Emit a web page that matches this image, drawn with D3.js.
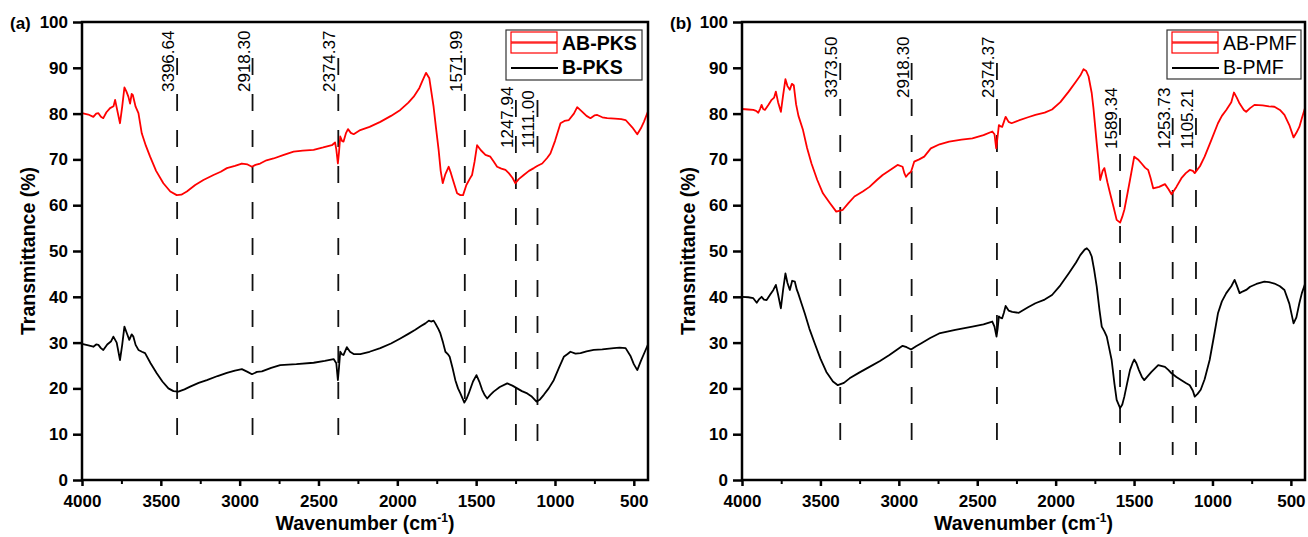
<!DOCTYPE html>
<html>
<head>
<meta charset="utf-8">
<script src="https://cdn.jsdelivr.net/npm/d3@7"></script>
<style>
  body { margin: 0; background: #fff; }
  svg { font-family: "Liberation Sans", Arial, sans-serif; }
</style>
</head>
<body>
<svg id="chart" width="1308" height="537"></svg>
<script>
// ---- data ----
const yTicks = [0, 10, 20, 30, 40, 50, 60, 70, 80, 90, 100];
const xTicks = [4000, 3500, 3000, 2500, 2000, 1500, 1000, 500];
const xMinorTicks = [3750, 3250, 2750, 2250, 1750, 1250, 750];

// (a) AB-PKS (red)
const abPksWn = [4000,3960,3928,3910,3896,3880,3865,3845,3822,3800,3790,3775,3759,3745,3731,3718,3706,3695,3685,3678,3660,3642,3621,3595,3568,3530,3484,3440,3399,3370,3335,3282,3230,3166,3120,3081,3030,2986,2950,2922,2900,2870,2830,2785,2720,2658,2600,2531,2470,2415,2395,2387,2377,2370,2362,2350,2341,2325,2313,2295,2277,2235,2176,2108,2040,1981,1930,1896,1860,1843,1818,1797,1770,1755,1738,1725,1712,1695,1674,1660,1647,1621,1600,1583,1562,1540,1526,1510,1494,1470,1441,1410,1390,1367,1340,1314,1293,1270,1251,1230,1198,1165,1134,1110,1081,1050,1029,1000,965,940,912,880,859,830,800,775,750,732,700,669,620,580,552,510,478,455,436,411];
const abPksT = [80.1,79.8,79.3,80.0,80.1,79.3,79.0,80.3,81.2,81.6,83.0,80.5,77.9,81.5,85.7,84.8,83.7,82.2,84.3,84.1,81.5,80.1,75.7,73.0,70.6,67.5,64.8,63.0,62.2,62.3,63.0,64.4,65.5,66.6,67.3,68.1,68.6,69.1,68.9,68.4,68.8,69.1,69.8,70.2,71.0,71.7,71.9,72.1,72.6,73.1,73.7,72.2,69.1,71.5,75.0,74.0,73.9,75.8,76.6,75.8,75.5,76.4,77.1,78.2,79.5,80.8,82.4,83.7,85.6,87.0,88.9,87.7,81.5,77.0,72.1,67.5,64.8,66.8,68.4,67.0,65.5,62.6,62.2,62.2,64.4,65.8,66.6,69.5,73.1,72.0,71.0,70.6,69.6,68.4,68.0,67.7,67.0,66.0,64.8,65.7,66.6,67.5,68.1,68.6,69.1,70.3,71.3,74.0,77.9,78.4,78.6,80.0,81.4,80.5,79.5,79.0,79.6,79.7,79.2,79.0,78.9,78.8,78.6,77.0,75.5,76.8,78.2,80.4];

// (a) B-PKS (black)
const bPksWn = [4000,3960,3928,3910,3896,3880,3865,3840,3815,3801,3780,3759,3745,3731,3715,3700,3685,3674,3660,3642,3620,3600,3565,3526,3490,3452,3420,3389,3350,3314,3260,3208,3140,3081,3030,2986,2950,2922,2890,2859,2800,2743,2640,2531,2460,2404,2387,2377,2370,2362,2350,2341,2320,2300,2277,2235,2176,2108,2040,1981,1930,1886,1850,1822,1800,1786,1770,1759,1740,1727,1710,1695,1680,1668,1650,1632,1615,1600,1575,1560,1547,1520,1498,1480,1462,1445,1430,1410,1389,1350,1303,1270,1240,1210,1176,1150,1117,1095,1071,1040,1008,975,944,920,902,870,838,800,754,700,627,590,552,520,500,478,455,430,411];
const bPksT = [29.7,29.4,29.1,29.6,29.5,28.8,28.4,29.6,30.3,31.3,30.0,26.2,29.5,33.5,32.0,30.6,31.8,31.3,29.5,28.4,28.0,27.7,25.5,23.3,21.5,20.0,19.4,19.3,19.8,20.4,21.2,21.8,22.7,23.4,23.9,24.2,23.6,23.1,23.6,23.7,24.5,25.1,25.3,25.6,26.0,26.4,25.5,21.8,24.5,28.0,27.4,27.3,29.0,28.0,27.5,27.5,28.0,28.8,29.8,30.9,31.9,32.8,33.6,34.2,34.8,34.6,34.8,34.2,33.0,32.0,30.0,28.0,27.5,26.9,24.5,21.8,20.0,18.9,16.9,17.8,18.9,21.5,22.9,21.5,19.7,18.5,17.8,18.6,19.3,20.3,21.1,20.6,20.0,19.4,18.9,18.3,17.1,17.6,18.6,20.0,21.8,24.5,26.9,27.5,28.0,27.6,27.7,28.1,28.4,28.5,28.8,28.9,28.8,27.0,25.3,24.0,26.0,28.0,29.5];

// (b) AB-PMF (red)
const abPmfWn = [4000,3960,3928,3910,3896,3885,3875,3865,3854,3830,3811,3795,3784,3770,3752,3738,3723,3710,3695,3682,3670,3655,3640,3611,3585,3557,3520,3484,3440,3399,3357,3320,3283,3230,3187,3140,3103,3060,3008,2976,2965,2954,2940,2922,2902,2870,2838,2796,2740,2679,2600,2531,2460,2404,2390,2379,2370,2362,2350,2341,2330,2319,2300,2281,2235,2176,2129,2070,2023,1970,1917,1870,1843,1822,1805,1790,1770,1759,1738,1725,1716,1700,1689,1670,1653,1630,1611,1589,1575,1562,1545,1526,1510,1499,1475,1452,1430,1410,1395,1378,1340,1303,1280,1261,1230,1198,1170,1145,1125,1113,1080,1050,1010,965,940,912,880,863,845,827,800,785,760,732,680,640,605,570,541,510,483,465,446,430,410];
const abPmfT = [81.0,80.9,80.8,80.6,80.2,81.0,81.9,81.0,80.8,82.0,83.0,83.5,84.8,82.5,80.4,84.0,87.5,86.0,85.2,86.5,86.2,82.0,79.5,76.4,72.5,69.1,65.5,62.6,60.5,58.6,59.0,60.5,61.9,63.0,64.0,65.5,66.6,67.6,68.8,68.4,67.0,66.2,66.8,67.3,69.5,70.0,70.6,72.4,73.3,73.9,74.3,74.6,75.3,76.1,75.5,72.4,75.0,77.5,77.2,77.1,78.2,79.3,78.2,77.9,78.5,79.2,79.7,80.2,80.9,82.5,84.8,87.0,88.3,89.7,89.3,88.1,84.5,81.2,73.5,69.0,65.5,67.5,68.1,65.0,62.6,59.5,56.8,56.2,57.5,59.0,62.0,65.5,68.5,70.6,70.0,69.1,68.2,67.7,66.0,63.7,64.0,64.6,63.5,62.4,64.0,65.9,67.0,67.7,67.5,67.0,68.5,70.6,74.0,77.9,79.5,80.8,82.5,84.6,83.5,82.2,80.8,80.4,81.2,81.9,81.8,81.6,81.5,80.8,79.7,77.5,74.8,75.8,77.1,79.0,81.2];

// (b) B-PMF (black)
const bPmfWn = [4000,3960,3928,3906,3890,3875,3860,3843,3820,3800,3784,3770,3752,3738,3723,3710,3695,3680,3663,3650,3642,3620,3600,3570,3536,3500,3462,3420,3389,3350,3314,3250,3187,3120,3060,3010,2976,2950,2922,2890,2859,2800,2743,2640,2531,2460,2404,2390,2377,2370,2362,2350,2341,2330,2319,2300,2277,2235,2176,2129,2070,2023,1970,1917,1870,1843,1815,1801,1785,1770,1755,1738,1720,1706,1690,1674,1660,1643,1625,1611,1589,1575,1562,1545,1526,1510,1499,1485,1469,1450,1435,1410,1389,1346,1303,1280,1261,1230,1198,1170,1145,1125,1113,1095,1075,1050,1018,990,965,940,912,880,859,845,827,805,785,760,720,669,640,605,570,541,510,483,465,446,430,410];
const bPmfT = [40.0,39.9,39.7,38.7,39.5,40.0,39.4,39.3,40.5,41.5,42.6,40.5,37.5,41.5,45.1,43.0,41.5,43.5,43.3,41.5,40.8,38.5,36.4,33.0,29.8,26.5,23.6,21.5,20.7,21.2,22.2,23.5,24.7,26.0,27.3,28.5,29.3,29.0,28.5,29.2,29.8,31.0,32.0,32.8,33.5,34.0,34.6,33.5,31.3,33.0,35.7,35.4,35.3,36.5,38.0,37.0,36.7,36.5,37.7,38.6,39.4,40.4,42.5,45.1,47.5,49.1,50.3,50.6,50.0,48.8,46.0,42.2,37.0,33.5,32.5,31.3,29.0,26.2,21.0,17.5,15.7,16.5,18.2,21.0,24.0,25.5,26.3,25.5,24.0,22.5,21.8,22.8,23.6,25.1,24.7,24.0,23.3,22.5,21.8,21.2,20.7,19.5,18.2,18.8,19.7,22.0,26.2,31.5,36.4,39.0,40.8,42.3,43.7,42.5,40.8,41.2,41.5,42.2,42.8,43.3,43.2,42.9,42.3,41.5,38.5,34.2,35.5,38.6,40.8,42.8];

// peak markers
const pksPeaks = [3396.64, 2918.30, 2374.37, 1571.99, 1247.94, 1111.00];
const pksPeakLabels = ["3396.64", "2918.30", "2374.37", "1571.99", "1247.94", "1111.00"];
const pmfPeaks = [3373.50, 2918.30, 2374.37, 1589.34, 1253.73, 1105.21];
const pmfPeakLabels = ["3373.50", "2918.30", "2374.37", "1589.34", "1253.73", "1105.21"];

const pksNames = ["AB-PKS", "B-PKS"];
const pmfNames = ["AB-PMF", "B-PMF"];

// ---- drawing ----
const svg = d3.select('#chart');
const y = d3.scaleLinear().domain([0, 100]).range([480, 22]);

const panels = [
  {
    tag: "(a)", left: 82, right: 648,
    red: [abPksWn, abPksT], black: [bPksWn, bPksT], names: pksNames, legendBold: true,
    peaks: pksPeaks, peakLabels: pksPeakLabels,
    // layout for the label groups: first four high, last two lower (legend is in the way)
    hi: { textY: 92, from: 58, to: 435 }, lo: { textY: 148, from: 100, to: 447 }, nHi: 4,
    legend: { x: 506, y: 30, w: 136, h: 50 }
  },
  {
    tag: "(b)", left: 742, right: 1305,
    red: [abPmfWn, abPmfT], black: [bPmfWn, bPmfT], names: pmfNames, legendBold: false,
    peaks: pmfPeaks, peakLabels: pmfPeakLabels,
    hi: { textY: 98, from: 63, to: 441 }, lo: { textY: 149, from: 118, to: 455 }, nHi: 3,
    legend: { x: 1167, y: 30, w: 134, h: 49 }
  }
];

panels.forEach(p => {
  const x = d3.scaleLinear().domain([4000, 410]).range([p.left, p.right]);
  const g = svg.append('g');

  // y axis
  const ya = g.append('g')
    .attr('transform', `translate(${p.left},0)`)
    .call(d3.axisLeft(y).tickValues(yTicks).tickSize(9).tickPadding(5).tickSizeOuter(0));
  ya.select('.domain').remove();
  ya.selectAll('.tick line').attr('stroke', '#000').attr('stroke-width', 2.5);
  ya.selectAll('.tick text')
    .attr('font-size', 17).attr('font-weight', 'bold')
    .attr('font-family', '"Liberation Sans", Arial, sans-serif').attr('fill', '#000');

  // x axis, major + minor
  const xa = g.append('g')
    .attr('transform', `translate(0,${y(0)})`)
    .call(d3.axisBottom(x).tickValues(xTicks).tickFormat(d3.format('d'))
      .tickSize(6).tickPadding(9).tickSizeOuter(0));
  xa.select('.domain').remove();
  xa.selectAll('.tick line').attr('stroke', '#000').attr('stroke-width', 2.5);
  xa.selectAll('.tick text')
    .attr('font-size', 17).attr('font-weight', 'bold')
    .attr('font-family', '"Liberation Sans", Arial, sans-serif').attr('fill', '#000');

  const xm = g.append('g')
    .attr('transform', `translate(0,${y(0)})`)
    .call(d3.axisBottom(x).tickValues(xMinorTicks).tickSize(4).tickFormat('').tickSizeOuter(0));
  xm.select('.domain').remove();
  xm.selectAll('.tick line').attr('stroke', '#000').attr('stroke-width', 2);

  // peak dashed lines + labels
  p.peaks.forEach((wn, i) => {
    const L = i < p.nHi ? p.hi : p.lo;
    const px = x(wn);
    g.append('line')
      .attr('x1', px).attr('x2', px)
      .attr('y1', L.from).attr('y2', L.to)
      .attr('stroke', '#111').attr('stroke-width', 1.8)
      .attr('stroke-dasharray', '17,19');
    g.append('text')
      .attr('transform', `translate(${px - 3},${L.textY}) rotate(-90)`)
      .attr('font-size', 17)
      .attr('fill', '#000')
      .text(p.peakLabels[i]);
  });

  // curves
  const line = d3.line().x(d => x(d[0])).y(d => y(d[1]));
  const toPts = ([wn, t]) => wn.map((w, i) => [w, t[i]]);
  g.append('path').datum(toPts(p.black))
    .attr('d', line).attr('fill', 'none')
    .attr('stroke', '#000').attr('stroke-width', 1.8).attr('stroke-linejoin', 'round');
  g.append('path').datum(toPts(p.red))
    .attr('d', line).attr('fill', 'none')
    .attr('stroke', '#ff0000').attr('stroke-width', 1.8).attr('stroke-linejoin', 'round');

  // frame
  g.append('rect')
    .attr('x', p.left).attr('y', y(100))
    .attr('width', p.right - p.left).attr('height', y(0) - y(100))
    .attr('fill', 'none').attr('stroke', '#000').attr('stroke-width', 2.5);

  // legend
  const lg = g.append('g').attr('transform', `translate(${p.legend.x},${p.legend.y})`);
  lg.append('rect').attr('width', p.legend.w).attr('height', p.legend.h)
    .attr('fill', '#fff').attr('stroke', '#333').attr('stroke-width', 1.2);
  lg.append('rect').attr('x', 5).attr('y', 2).attr('width', 46).attr('height', 10)
    .attr('fill', 'none').attr('stroke', '#ff0000').attr('stroke-width', 1.2);
  lg.append('rect').attr('x', 5).attr('y', 13).attr('width', 46).attr('height', 10)
    .attr('fill', 'none').attr('stroke', '#ff0000').attr('stroke-width', 1.2);
  lg.append('line').attr('x1', 5).attr('x2', 52).attr('y1', 38).attr('y2', 38)
    .attr('stroke', '#000').attr('stroke-width', 2);
  lg.selectAll('text.leg').data(p.names).enter().append('text')
    .attr('class', 'leg')
    .attr('x', 56).attr('y', (d, i) => 20 + i * 23.5)
    .attr('font-size', 19.5)
    .attr('font-weight', p.legendBold ? 'bold' : 'normal')
    .attr('fill', '#000')
    .text(d => d);

  // axis titles
  const title = g.append('text')
    .attr('x', (p.left + p.right) / 2).attr('y', 530)
    .attr('text-anchor', 'middle')
    .attr('font-size', 19.5).attr('font-weight', 'bold');
  title.append('tspan').text('Wavenumber (cm');
  title.append('tspan').attr('font-size', 12).attr('dy', -8).text('-1');
  title.append('tspan').attr('dy', 8).text(')');

  g.append('text')
    .attr('transform', `translate(${p.left - 47},${(y(0) + y(100)) / 2}) rotate(-90)`)
    .attr('text-anchor', 'middle')
    .attr('font-size', 19.5).attr('font-weight', 'bold')
    .text('Transmittance (%)');

  g.append('text')
    .attr('x', p.left - 72).attr('y', 29)
    .attr('font-size', 17).attr('font-weight', 'bold')
    .text(p.tag);
});
</script>
</body>
</html>
